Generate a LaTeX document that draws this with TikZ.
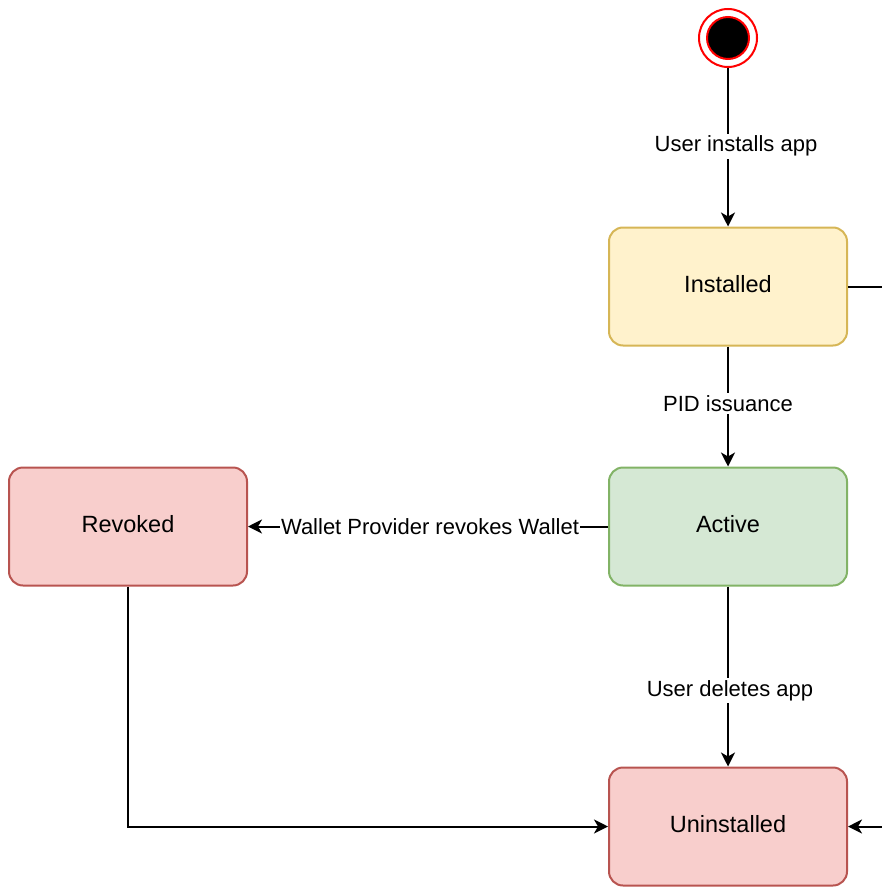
\documentclass[tikz,border=0pt]{standalone}
\usepackage{fontspec}
\setmainfont{Liberation Sans}
\usetikzlibrary{arrows.meta}
\definecolor{ylwF}{HTML}{FFF2CC}
\definecolor{ylwD}{HTML}{D6B656}
\definecolor{grnF}{HTML}{D5E8D4}
\definecolor{grnD}{HTML}{82B366}
\definecolor{redF}{HTML}{F8CECC}
\definecolor{redD}{HTML}{B85450}
\definecolor{startred}{HTML}{FF0000}
\begin{document}
\begin{tikzpicture}[x=1pt,y=-1pt,
  statebox/.style={rectangle, rounded corners=14pt, line width=2pt,
    minimum width=238pt, minimum height=118pt, inner sep=0pt,
    text height=17pt, text depth=6pt,
    font=\fontsize{23.5}{28}\selectfont},
  conn/.style={line width=2pt, -{Stealth[length=14pt,width=14pt,inset=4pt]}},
  plainconn/.style={line width=2pt},
  lbl/.style={fill=white, inner sep=2pt, font=\fontsize{22}{26}\selectfont}]
\useasboundingbox (0,0) rectangle (881,888);
\node[circle, draw=startred, fill=white, line width=2pt, minimum size=58pt, inner sep=0pt] (start) at (728,38) {};
\node[circle, draw=startred, fill=black, line width=2pt, minimum size=42pt, inner sep=0pt] (startin) at (728,38) {};
\node[statebox, fill=ylwF, draw=ylwD] (inst) at (728,286.5) {Installed};
\node[statebox, fill=grnF, draw=grnD] (act) at (728,526.5) {Active};
\node[statebox, fill=redF, draw=redD] (rev) at (128,526.5) {Revoked};
\node[statebox, fill=redF, draw=redD] (unin) at (728,826.5) {Uninstalled};
\coordinate (exitR) at (882,286.5);
\coordinate (enterR) at (882,826.5);
\draw[conn] (start) -- node[lbl, xshift=8pt, yshift=1pt] {User installs app} (inst);
\draw[conn] (inst) -- node[lbl, yshift=3pt] {PID issuance} (act);
\draw[conn] (act) -- node[lbl, xshift=2pt, yshift=-14pt] {User deletes app} (unin);
\draw[conn] (act) -- node[lbl, inner sep=1pt, xshift=2pt] {Wallet Provider revokes Wallet} (rev);
\draw[conn] (rev) |- (unin);
\draw[plainconn] (inst) -- (exitR);
\draw[conn] (enterR) -- (unin);
\end{tikzpicture}
\end{document}
